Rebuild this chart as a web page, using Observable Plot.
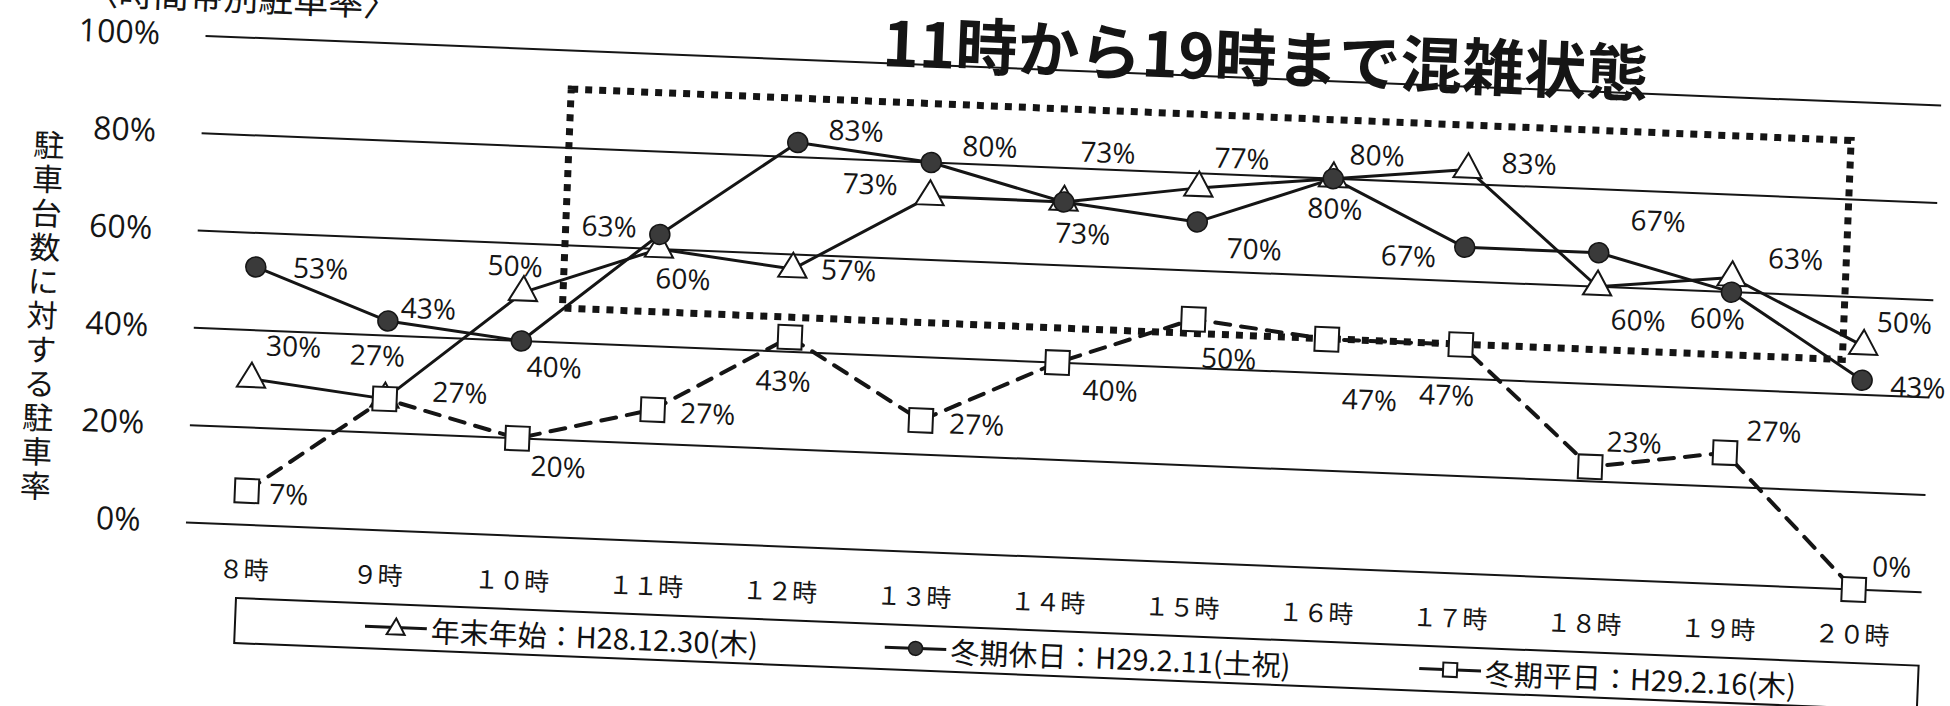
<!DOCTYPE html>
<html><head><meta charset="utf-8">
<script src="https://cdn.jsdelivr.net/npm/d3@7"></script>
<script src="https://cdn.jsdelivr.net/npm/@observablehq/plot@0.6"></script>
<style>
html,body{margin:0;padding:0;background:#fff;overflow:hidden;}
#stage{position:relative;width:1950px;height:706px;transform:rotate(2.3deg);transform-origin:186px 522px;}
#stage svg.chart{position:absolute;left:0;top:-60px;}
#legend{position:absolute;left:238px;top:595px;width:1686px;height:47px;box-sizing:border-box;border:2px solid #111;font-family:"Noto Sans CJK JP",sans-serif;font-size:29px;color:#111;}
.item{position:absolute;top:0;height:100%;display:flex;align-items:center;white-space:nowrap;}
</style></head><body><div id="stage"></div>
<script>
// ---- data ----
const hours = [8, 9, 10, 11, 12, 13, 14, 15, 16, 17, 18, 19, 20];
const hourLabels = ["８時","９時","１０時","１１時","１２時","１３時","１４時","１５時","１６時","１７時","１８時","１９時","２０時"];
const seriesNames = ["年末年始：H28.12.30(木)", "冬期休日：H29.2.11(土祝)", "冬期平日：H29.2.16(木)"];
const nenmatsu = [30, 27, 50, 60, 57, 73, 73, 77, 80, 83, 60, 63, 50];
const kyujitsu = [53, 43, 40, 63, 83, 80, 73, 70, 80, 67, 67, 60, 43];
const heijitsu = [7, 27, 20, 27, 43, 27, 40, 50, 47, 47, 23, 27, 0];
const yTicks = [0, 20, 40, 60, 80, 100];
const congestionHours = [10.3, 19.85];
const congestionRange = [47, 92];
const titleText = "11時から19時まで混雑状態";
const headText = "〈時間帯別駐車率〉";
const yLabel = "駐車台数に対する駐車率";

// ---- label placement (layout) ----
const triShift = [[41,-33],[-9,-42],[-9,-25],[25,30],[56,0],[-60,-9],[20,32],[42,-30],[3,31],[61,-7],[42,33],[63,-20],[40,-24]];
const cirShift = [[65,0],[40,-13],[34,26],[-51,-5],[58,-13],[58,-17],[42,-50],[58,26],[43,-24],[-56,12],[58,-33],[-13,28],[56,6]];
const squShift = [[42,3],[75,-8],[42,28],[55,3],[-5,45],[56,3],[54,27],[37,39],[45,60],[-12,52],[43,-25],[48,-22],[37,-23]];

const rows = (vals, s) => vals.map((v, i) => ({hour: hours[i], value: v, series: seriesNames[s], idx: i}));
const tri = rows(nenmatsu, 0), cir = rows(kyujitsu, 1), squ = rows(heijitsu, 2);

const ink = "#151515";
const numFont = '"Open Sans","Noto Sans",sans-serif';
const jpFont = '"Noto Sans CJK JP",sans-serif';

const labelMarks = (data, shifts) => data.map((d, i) => Plot.text([d], {
  x: "hour", y: "value", text: r => r.value + "%", dx: shifts[i][0], dy: shifts[i][1],
  fontSize: 28, fill: ink, fontFamily: numFont
}));

const marks = [
  Plot.ruleY(yTicks, {y: d => d, stroke: ink, strokeWidth: 2}),
  Plot.text(yTicks, {y: d => d, frameAnchor: "left", dx: -46, textAnchor: "end", text: d => d + "%", fontSize: 32, fill: ink, fontFamily: numFont}),
  Plot.text(hours, {x: d => d, frameAnchor: "bottom", dy: 46, lineAnchor: "middle", text: (d, i) => hourLabels[i], fontSize: 25, fill: ink, fontFamily: jpFont}),
  Plot.text([yLabel], {frameAnchor: "left", dx: -168, dy: 43, text: d => d.split("").join("\n"), lineHeight: 1.1, lineAnchor: "middle", fontSize: 31, fill: ink, fontFamily: jpFont}),
  Plot.text([titleText], {frameAnchor: "top", dx: 191, dy: -17, lineAnchor: "middle", text: d => d, fontSize: 62, fontWeight: 700, fill: ink, fontFamily: jpFont}),
  Plot.text([headText], {frameAnchor: "top-left", dx: -124, dy: -38, textAnchor: "start", lineAnchor: "middle", text: d => d, fontSize: 35, fill: ink, fontFamily: jpFont}),
  Plot.rect([0], {x1: () => congestionHours[0], x2: () => congestionHours[1], y1: () => congestionRange[0], y2: () => congestionRange[1], fill: "none", stroke: ink, strokeWidth: 7, strokeDasharray: "7,7"}),
  Plot.line(tri, {x: "hour", y: "value", stroke: ink, strokeWidth: 3}),
  Plot.line(cir, {x: "hour", y: "value", stroke: ink, strokeWidth: 3}),
  Plot.line(squ, {x: "hour", y: "value", stroke: ink, strokeWidth: 4, strokeDasharray: "15,11"}),
  Plot.dot(tri, {x: "hour", y: "value", symbol: "triangle", r: 10.5, fill: "white", stroke: ink, strokeWidth: 2}),
  Plot.dot(cir, {x: "hour", y: "value", symbol: "circle", r: 10, fill: "#3a3a3a", stroke: ink, strokeWidth: 1.5}),
  Plot.dot(squ, {x: "hour", y: "value", symbol: "square", r: 13.5, fill: "white", stroke: ink, strokeWidth: 2}),
  ...labelMarks(tri, triShift),
  ...labelMarks(cir, cirShift),
  ...labelMarks(squ, squShift)
];

const chart = Plot.plot({
  width: 1950, height: 766,
  marginTop: 95, marginBottom: 184, marginLeft: 186, marginRight: 27,
  x: {domain: [7.56, 20.51], axis: null},
  y: {domain: [0, 100], axis: null},
  style: {fontFamily: numFont, overflow: "visible", background: "transparent", color: ink},
  marks
});
chart.classList.add("chart");
const stage = document.getElementById("stage");
stage.appendChild(chart);

// ---- legend ----
const legend = document.createElement("div");
legend.id = "legend";
stage.appendChild(legend);
const legendX = [129, 649, 1184];
const legendSymbols = [
  '<polygon points="31,4 40,20 22,20" fill="#fff" stroke="#151515" stroke-width="2"/>',
  '<circle cx="31" cy="13" r="7" fill="#3a3a3a" stroke="#151515" stroke-width="1.5"/>',
  '<rect x="24" y="6" width="14" height="14" fill="#fff" stroke="#151515" stroke-width="2"/>'
];
seriesNames.forEach((name, i) => {
  const item = document.createElement("div");
  item.className = "item";
  item.style.left = legendX[i] + "px";
  item.innerHTML = `<svg width="62" height="26" style="margin-right:4px"><line x1="0" y1="13" x2="62" y2="13" stroke="#151515" stroke-width="3"/>${legendSymbols[i]}</svg><span>${name}</span>`;
  legend.appendChild(item);
});
</script></body></html>
